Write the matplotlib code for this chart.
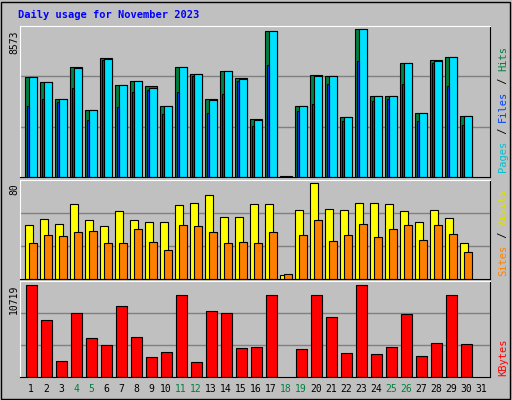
import numpy as np
import matplotlib
matplotlib.use('Agg')
import matplotlib.pyplot as plt

# ── Data ────────────────────────────────────────────────────
days = list(range(1, 32))
weekend = [4, 5, 11, 12, 18, 19, 25, 26]

hits = [5805, 5532, 4539, 6409, 3896, 6935, 5357, 5591, 5299, 4130,
        6409, 6000, 4539, 6175, 5766, 3370, 8454, 40, 4130, 5941,
        5883, 3487, 8573, 4714, 4714, 6643, 3721, 6818, 6993, 3545, 0]
files = [5805, 5532, 4539, 6350, 3896, 6876, 5357, 5591, 5182, 4130,
         6409, 6000, 4480, 6175, 5708, 3312, 8454, 0, 4130, 5883,
         5883, 3487, 8573, 4714, 4714, 6643, 3721, 6760, 6993, 3545, 0]
pages = [4130, 4539, 4364, 5182, 3312, 6818, 4071, 4948, 5065, 3662,
         4948, 5883, 3721, 4831, 5591, 2961, 6526, 0, 3838, 4247,
         5415, 3253, 6760, 4422, 4539, 5415, 3253, 6643, 5299, 3019, 0]
visits = [45, 50, 46, 63, 49, 44, 57, 49, 48, 48, 62, 64, 70, 52, 52,
          63, 63, 3, 58, 80, 59, 58, 64, 64, 63, 57, 48, 58, 51, 30, 0]
sites = [30, 37, 36, 39, 40, 30, 30, 42, 31, 24, 45, 44, 39, 30, 31,
         30, 39, 4, 37, 49, 32, 37, 46, 35, 42, 45, 33, 45, 38, 23, 0]
kbytes = [10719, 6596, 1885, 7421, 4594, 3769, 8245, 4712, 2356, 2945,
          9541, 1767, 7656, 7421, 3416, 3534, 9541, 0, 3298, 9541,
          6950, 2827, 10719, 2709, 3534, 7303, 2474, 4005, 9541, 3887, 0]

BG = '#C0C0C0'
W, H = 512, 400
fig = plt.figure(figsize=(W / 100, H / 100), dpi=100, facecolor=BG)
mono = 'DejaVu Sans Mono'

x = np.array(days, dtype=float)
XL = (0.27, 0.27 + 470 / 15)


def panel(top, bottom):
    ax = fig.add_axes([20 / W, 1 - bottom / H, 470 / W, (bottom - top) / H])
    ax.set_facecolor(BG)
    ax.set_xlim(*XL)
    ax.set_xticks([])
    ax.set_yticks([])
    for s in ax.spines.values():
        s.set_color('black')
    ax.spines['top'].set_color('white')
    ax.spines['left'].set_color('white')
    return ax


def grid(ax, top):
    ax.set_ylim(0, top)
    for f in (1 / 3, 2 / 3):
        ax.axhline(top * f, color='#808080', lw=1, zorder=0)


def bars(ax, left, width, vals, color):
    v = np.array(vals, dtype=float)
    m = v > 0
    ax.bar(x[m] + left, v[m], width, align='edge', color=color,
           edgecolor='black', linewidth=0.8, zorder=2)


# ── Hits / Files / Pages ────────────────────────────────────
ax1 = panel(26, 177)
grid(ax1, 8573 * 450 / 440)
bars(ax1, -0.38, 0.76, hits, '#008040')
bars(ax1, -0.11, 0.49, files, '#00E0FF')
bars(ax1, -0.29, 0.17, pages, '#0040FF')

# ── Visits / Sites ──────────────────────────────────────────
ax2 = panel(180, 279)
grid(ax2, 80 * 286 / 276)
bars(ax2, -0.38, 0.53, visits, '#FFFF00')
bars(ax2, -0.11, 0.49, sites, '#FF8000')

# ── KBytes ──────────────────────────────────────────────────
ax3 = panel(281, 377)
grid(ax3, 10719 * 285 / 273)
bars(ax3, -0.31, 0.69, kbytes, '#FF0000')

# Day labels
for d in days:
    c = '#008040' if d in weekend else 'black'
    ax3.text(d, -0.12, str(d), transform=ax3.get_xaxis_transform(),
             ha='center', va='center', fontsize=7, color=c, family=mono)

fig.text(18 / W, 1 - 15 / H, 'Daily usage for November 2023', color='#0000FF',
         fontsize=7.5, fontweight='bold', family=mono, va='center')

for txt, y in (('8573', 30), ('80', 183), ('10719', 285)):
    fig.text(14 / W, 1 - y / H, txt, rotation=90, ha='center', va='top',
             fontsize=7, family=mono)

# Right-side legends (rotated, read bottom to top)
def side(parts, y_bottom):
    ypos = 1 - y_bottom / H
    for t, c in parts:
        tt = fig.text(503 / W, ypos, t, rotation=90, ha='center', va='bottom',
                      fontsize=7.5, family=mono, color=c)
        ypos += len(t) * 6.3 / H

side([('Pages', '#00C0D0'), (' / ', 'black'), ('Files', '#0040FF'),
      (' / ', 'black'), ('Hits', '#008040')], 172)
side([('Sites', '#FF8000'), (' / ', 'black'), ('Visits', '#E0E000')], 276)
side([('KBytes', '#FF0000')], 376)

# Outer border
fig.patches.append(plt.Rectangle((0.002, 0.002), 0.994, 0.994,
                                 transform=fig.transFigure, fill=False,
                                 edgecolor='black', lw=1))

fig.savefig('out.png', dpi=100, facecolor=BG)
